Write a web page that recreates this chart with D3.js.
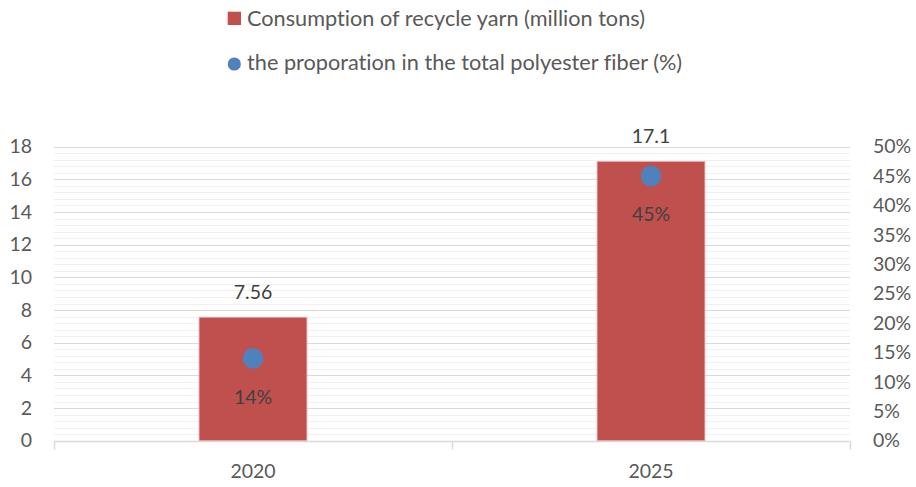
<!DOCTYPE html>
<html>
<head>
<meta charset="utf-8">
<script src="https://cdn.jsdelivr.net/npm/d3@7"></script>
<style>
  html, body { margin: 0; padding: 0; background: #fff; }
  svg { display: block; font-family: Lato, "Open Sans", sans-serif; font-variant-ligatures: none; }
</style>
</head>
<body>
<svg id="chart" width="916" height="487"></svg>
<script>
// Recycled yarn consumption and its share of total polyester fiber
const years = ["2020", "2025"];
const consumption = [7.56, 17.1];          // million tons
const proportion = [0.14, 0.45];           // share of total polyester fiber
const consumptionLabels = ["7.56", "17.1"];
const proportionLabels = ["14%", "45%"];
const leftTicks = [0, 2, 4, 6, 8, 10, 12, 14, 16, 18];
const rightTicks = [0, 0.05, 0.10, 0.15, 0.20, 0.25, 0.30, 0.35, 0.40, 0.45, 0.50];
const seriesNames = ["Consumption of recycle yarn (million tons)",
                     "the proporation in the total polyester fiber (%)"];

const barColor = "#C0504D";
const dotColor = "#4F81BD";
const textColor = "#595959";
const fontSize = 19.5;
const legendFontSize = 21.7;

const svg = d3.select("#chart");
const plot = { left: 54, right: 850, top: 146.7, bottom: 440.7 };

const x = d3.scaleBand().domain(years).range([plot.left, plot.right])
  .paddingInner(0.729).paddingOuter(0.3645);
const yL = d3.scaleLinear().domain([0, 18]).range([plot.bottom, plot.top]);
const yR = d3.scaleLinear().domain([0, 0.5]).range([plot.bottom, plot.top]);

// minor gridlines every 0.4, major every 2
const minor = d3.range(0, 18.001, 0.4).filter(v => Math.abs(v / 2 - Math.round(v / 2)) > 1e-6);
svg.append("g").selectAll("line").data(minor).join("line")
  .attr("x1", plot.left).attr("x2", plot.right)
  .attr("y1", d => Math.round(yL(d)) + 0.5).attr("y2", d => Math.round(yL(d)) + 0.5)
  .attr("stroke", "#f0f0f0").attr("stroke-width", 1.2);
svg.append("g").selectAll("line").data(leftTicks.filter(d => d > 0)).join("line")
  .attr("x1", plot.left).attr("x2", plot.right)
  .attr("y1", d => Math.round(yL(d)) + 0.5).attr("y2", d => Math.round(yL(d)) + 0.5)
  .attr("stroke", "#d9d9d9").attr("stroke-width", 1.2);

// left axis labels
const leftAxis = svg.append("g")
  .attr("transform", `translate(${plot.left},0)`)
  .call(d3.axisLeft(yL).tickValues(leftTicks).tickSize(0).tickPadding(22));
leftAxis.select(".domain").remove();
leftAxis.selectAll("text").attr("font-size", fontSize).attr("fill", textColor)
  .attr("font-family", "Lato, sans-serif");

// right axis labels
const rightAxis = svg.append("g")
  .attr("transform", `translate(${plot.right},0)`)
  .call(d3.axisRight(yR).tickValues(rightTicks).tickFormat(d3.format(".0%"))
    .tickSize(0).tickPadding(23));
rightAxis.select(".domain").remove();
rightAxis.selectAll("text").attr("font-size", fontSize).attr("fill", textColor)
  .attr("font-family", "Lato, sans-serif");

// bottom axis with category separators
const bottomAxis = svg.append("g")
  .attr("transform", `translate(0,${Math.round(plot.bottom) + 0.5})`);
bottomAxis.append("line")
  .attr("x1", plot.left).attr("x2", plot.right)
  .attr("stroke", "#d9d9d9").attr("stroke-width", 1.5);
const separators = [plot.left, (x("2020") + x("2025") + x.bandwidth()) / 2, plot.right];
bottomAxis.selectAll("line.sep").data(separators).join("line").attr("class", "sep")
  .attr("x1", d => Math.round(d) + 0.5).attr("x2", d => Math.round(d) + 0.5)
  .attr("y1", 0).attr("y2", 8)
  .attr("stroke", "#d9d9d9").attr("stroke-width", 1.5);
bottomAxis.selectAll("text").data(years).join("text")
  .attr("x", d => x(d) + x.bandwidth() / 2)
  .attr("y", 30)
  .attr("dy", "0.35em")
  .attr("text-anchor", "middle")
  .attr("font-size", fontSize).attr("fill", textColor)
  .text(d => d);

// bars
svg.append("g").selectAll("rect").data(years).join("rect")
  .attr("x", d => x(d))
  .attr("width", x.bandwidth())
  .attr("y", (d, i) => yL(consumption[i]))
  .attr("height", (d, i) => yL(0) - yL(consumption[i]))
  .attr("fill", barColor)
  .attr("stroke", "#e6b3b2").attr("stroke-width", 0.8);

// bar value labels
svg.append("g").selectAll("text").data(years).join("text")
  .attr("x", d => x(d) + x.bandwidth() / 2)
  .attr("y", (d, i) => yL(consumption[i]) - 25.5)
  .attr("dy", "0.35em")
  .attr("text-anchor", "middle")
  .attr("font-size", fontSize).attr("fill", "#404040")
  .text((d, i) => consumptionLabels[i]);

// proportion markers
svg.append("g").selectAll("circle").data(years).join("circle")
  .attr("cx", d => x(d) + x.bandwidth() / 2)
  .attr("cy", (d, i) => yR(proportion[i]))
  .attr("r", 10.3)
  .attr("fill", dotColor);

// proportion labels
svg.append("g").selectAll("text").data(years).join("text")
  .attr("x", d => x(d) + x.bandwidth() / 2)
  .attr("y", (d, i) => yR(proportion[i]) + 38.5)
  .attr("dy", "0.35em")
  .attr("text-anchor", "middle")
  .attr("font-size", fontSize).attr("fill", "#404040")
  .text((d, i) => proportionLabels[i]);

// legend
const legend = svg.append("g");
legend.append("rect")
  .attr("x", 227.7).attr("y", 11.7).attr("width", 13.3).attr("height", 13.3)
  .attr("fill", barColor);
legend.append("text")
  .attr("x", 247).attr("y", 18.5).attr("dy", "0.35em")
  .attr("font-size", legendFontSize).attr("fill", textColor)
  .text(seriesNames[0]);
legend.append("circle")
  .attr("cx", 234.3).attr("cy", 64).attr("r", 6.6)
  .attr("fill", dotColor);
legend.append("text")
  .attr("x", 247).attr("y", 62.5).attr("dy", "0.35em")
  .attr("font-size", legendFontSize).attr("fill", textColor)
  .text(seriesNames[1]);
</script>
</body>
</html>
